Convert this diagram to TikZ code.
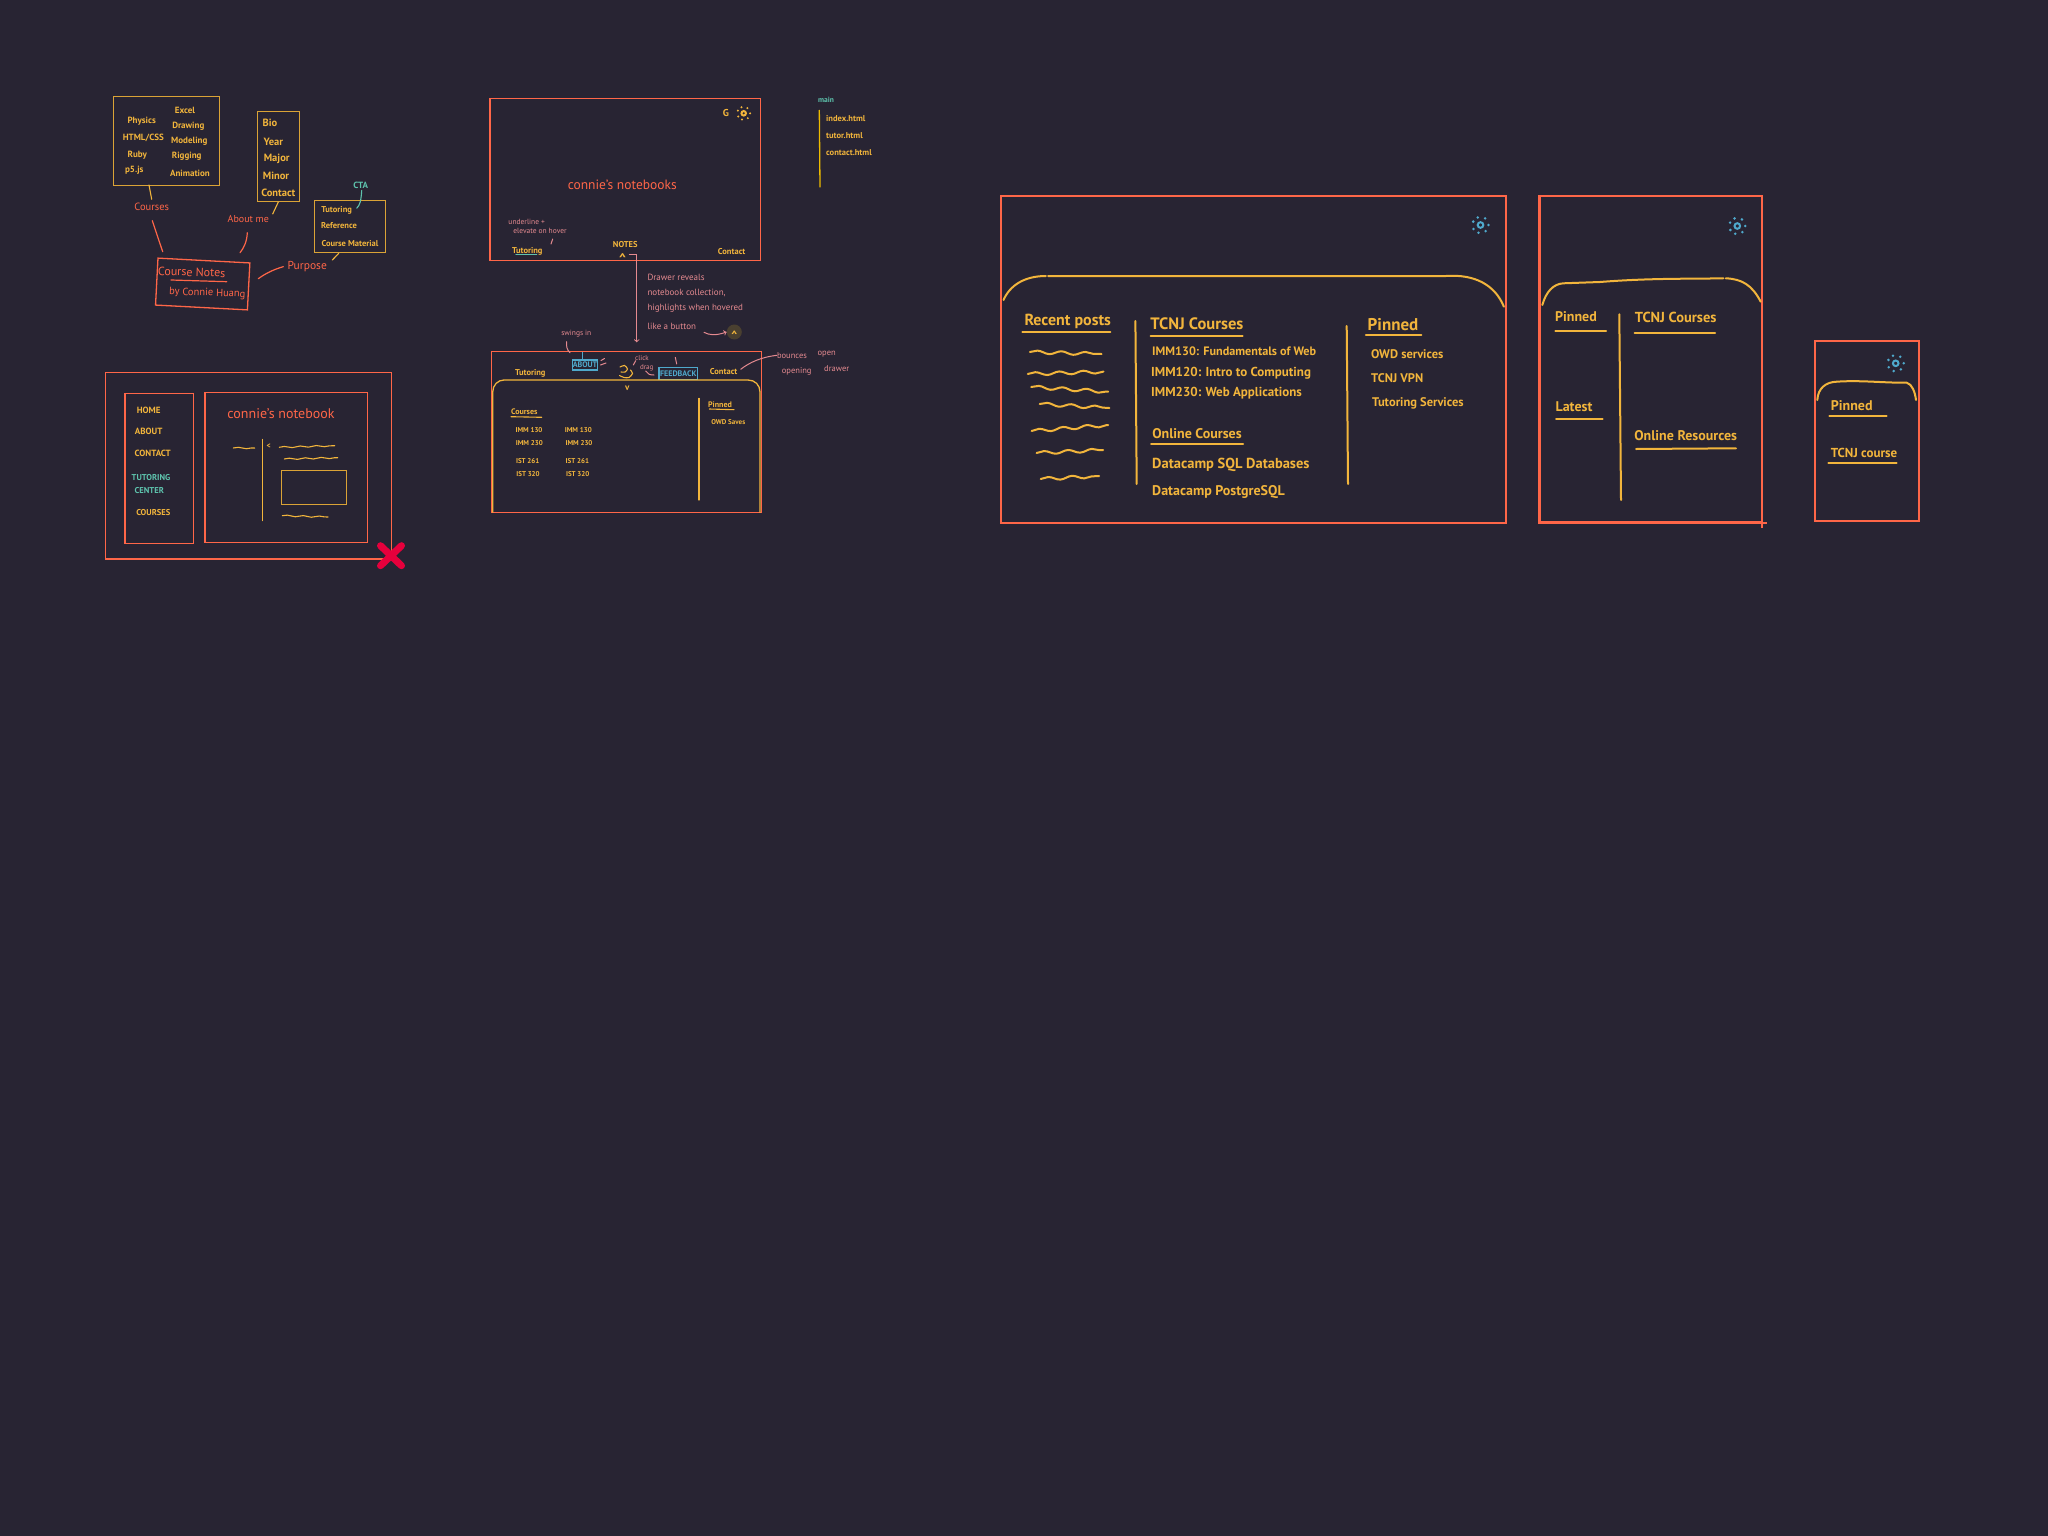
\documentclass[tikz,border=0pt]{standalone}
\usepackage{fontspec}
\setmainfont{PT Sans}
\usetikzlibrary{decorations.pathmorphing}
\definecolor{bgdark}{HTML}{282433}
\definecolor{handred}{HTML}{FF6648}
\definecolor{handyel}{HTML}{F2B53C}
\definecolor{handteal}{HTML}{5EC4AE}
\definecolor{handpink}{HTML}{E58A90}
\definecolor{handblue}{HTML}{4FA9CC}
\definecolor{handgold}{HTML}{EDBB00}
\definecolor{crossred}{HTML}{E6003C}
\definecolor{capsule}{HTML}{4A4030}
\begin{document}
\begin{tikzpicture}[
    x=1pt, y=-1pt,
    hand/.style={inner sep=0pt, font=\fontsize{#1}{#1}\selectfont},
    hand bold/.style={inner sep=0pt, font=\fontsize{#1}{#1}\selectfont\bfseries},
    rednote/.style={hand=#1, text=handred},
    yelnote/.style={hand bold=#1, text=handyel},
    tealnote/.style={hand bold=#1, text=handteal},
    pinknote/.style={hand=#1, text=handpink},
    yelbig/.style={hand bold=#1, text=handyel},
    frame/.style={draw=handred, line width=1.3pt, inner sep=0pt, outer sep=0pt},
    bigframe/.style={draw=handred, line width=2.4pt, inner sep=0pt, outer sep=0pt},
    yelframe/.style={draw=handyel!90!black, line width=1pt, inner sep=0pt, outer sep=0pt},
    tagbox/.style={draw=handblue, line width=1.2pt, inner sep=0pt, outer sep=0pt, text=handblue, font=\fontsize{8}{8}\selectfont\bfseries},
    redline/.style={draw=handred, line width=1.2pt, line cap=round},
    yelline/.style={draw=handyel, line width=1.1pt, line cap=round},
    yelfat/.style={draw=handyel, line width=2pt, line cap=round},
    pinkline/.style={draw=handpink, line width=1pt, line cap=round},
    pinkarrow/.style={->, >=to, draw=handpink, line width=1pt, line cap=round},
    tealline/.style={draw=handteal, line width=1.1pt, line cap=round},
    squiggle/.style={yelfat, decorate, decoration={snake, segment length=24pt, amplitude=1.6pt}},
    fineswiggle/.style={yelline, decorate, decoration={snake, segment length=16pt, amplitude=0.7pt}},
    crossline/.style={draw=crossred, line width=7pt, line cap=round},
    sunpic/.pic={
        \draw[line width=2pt] (0,0) circle (2.8pt);
        \foreach \a in {0,50,105,150,205,250,305} \fill (\a:8) circle (1.4pt);
    }
]
    \path[use as bounding box, fill=bgdark] (0,0) rectangle (2048,1536);

    % Mind map: Course Notes
    \node[yelframe, minimum width=106pt, minimum height=88pt] (bxcourses) at (166,141) {};
    \node[yelframe, minimum width=42pt, minimum height=89pt] (bxabout) at (278.3,156.5) {};
    \node[yelframe, minimum width=71pt, minimum height=52pt] (bxpurpose) at (349.8,226.3) {};
    \node[frame, rotate=-3, minimum width=92pt, minimum height=47pt] (bxtitle) at (202.7,284) {};

    \node[yelnote=9] (tphys) at (141.7,121.7) {Physics};
    \node[yelnote=9] (thtml) at (143.3,138.3) {HTML/CSS};
    \node[yelnote=9] (truby) at (137.3,155) {Ruby};
    \node[yelnote=9] (tp5) at (134.3,170.7) {p5.js};
    \node[yelnote=9] (texcel) at (185,110) {Excel};
    \node[yelnote=9] (tdraw) at (188.3,126.7) {Drawing};
    \node[yelnote=9] (tmodel) at (189.3,141.7) {Modeling};
    \node[yelnote=9] (trig) at (186.7,156) {Rigging};
    \node[yelnote=9] (tanim) at (190,173.3) {Animation};

    \node[yelnote=10.5] (tbio) at (270,122.7) {Bio};
    \node[yelnote=10.5] (tyear) at (273.3,142.3) {Year};
    \node[yelnote=10.5] (tmajor) at (276.7,159.3) {Major};
    \node[yelnote=10.5] (tminor) at (276,175.7) {Minor};
    \node[yelnote=10.5] (tcontact) at (278.3,192.7) {Contact};

    \node[tealnote=9] (tcta) at (360.7,185) {CTA};
    \node[yelnote=8.5] (ttut) at (336.7,210.7) {Tutoring};
    \node[yelnote=8.5] (tref) at (339,226) {Reference};
    \node[yelnote=8.5] (tmat) at (350,243.3) {Course Material};

    \node[rednote=10.5] (lblcourses) at (151.7,207.3) {Courses};
    \node[rednote=10] (lblabout) at (248.3,219.3) {About me};
    \node[rednote=11.5] (lblpurpose) at (307.3,266.7) {Purpose};
    \node[rednote=12, rotate=-2] (tnotes) at (191.7,272) {Course Notes};
    \node[rednote=10.5, rotate=-2] (tby) at (207.3,293.3) {by Connie Huang};
    \coordinate (unotes1) at (171,280);
    \coordinate (unotes2) at (226.7,281.7);
    \draw[redline] (unotes1) -- (unotes2);

    \coordinate (ctaend) at (356.7,208.3);
    \coordinate (cnend) at (162.7,251.7);
    \coordinate (abend) at (240,252.7);
    \coordinate (puend) at (258.3,278.7);
    \coordinate (pustart) at (283.3,266.7);
    \coordinate (abstart) at (247.3,232.7);
    \coordinate (cnstart) at (152.3,220.7);
    \coordinate (abtop) at (272.7,214);
    \coordinate (putop) at (332.3,260);
    \draw[yelline] ([xshift=-17pt]bxcourses.south) -- ([yshift=4pt]lblcourses.north);
    \draw[redline] (cnstart) -- (cnend);
    \draw[yelline] ([yshift=-1pt]bxabout.south) -- (abtop);
    \draw[redline] (abstart) .. controls (247,241) and (244,248) .. (abend);
    \draw[redline] (puend) .. controls (266,273) and (275,269) .. (pustart);
    \draw[yelline] ([xshift=-11pt,yshift=-1pt]bxpurpose.south) -- (putop);
    \draw[tealline] (tcta.south) ++(1,2) .. controls (361,201) and (360,205) .. (ctaend);

    % Sidebar layout
    \node[frame, minimum width=286.4pt, minimum height=186.7pt] (bxpage) at (248.5,465.7) {};
    \node[frame, minimum width=68.7pt, minimum height=150pt] (bxside) at (159.3,468.3) {};
    \node[frame, minimum width=162.3pt, minimum height=150pt] (bxmain) at (286.2,467.7) {};

    \node[yelnote=9] (shome) at (148.7,410) {HOME};
    \node[yelnote=9] (sabout) at (148.7,431.3) {ABOUT};
    \node[yelnote=9] (scontact) at (152.7,453) {CONTACT};
    \node[tealnote=8.5] (stut) at (151,477.7) {TUTORING};
    \node[tealnote=8.5] (scen) at (149.3,490.7) {CENTER};
    \node[yelnote=8.5] (scour) at (153.3,512.7) {COURSES};
    \node[rednote=14] (stitle) at (281,413.3) {connie's notebook};

    \coordinate (sq1a) at (233.3,448);
    \coordinate (sq1b) at (254.7,448);
    \coordinate (sq2a) at (279.3,447.3);
    \coordinate (sq2b) at (334.7,445.7);
    \coordinate (sq3a) at (284.3,459);
    \coordinate (sq3b) at (337.7,457.7);
    \coordinate (sq4a) at (282.3,515.7);
    \coordinate (sq4b) at (328,517);
    \coordinate (sdiv1) at (262.7,439.3);
    \coordinate (sdiv2) at (262.7,520.7);
    \draw[fineswiggle] (sq1a) -- (sq1b);
    \draw[fineswiggle] (sq2a) -- (sq2b);
    \draw[fineswiggle] (sq3a) -- (sq3b);
    \draw[fineswiggle] (sq4a) -- (sq4b);
    \draw[yelline] (sdiv1) -- (sdiv2);
    \node[yelnote=8] (sback) at (268.7,446) {<};
    \node[yelframe, minimum width=65pt, minimum height=34pt] (simg) at (313.8,487.3) {};

    \coordinate (crossm) at (391,555.7);
    \draw[crossline] ([shift={(-10.5,10)}]crossm) -- ([shift={(10.5,-10)}]crossm);
    \draw[crossline] ([shift={(-10.5,-10)}]crossm) -- ([shift={(10.5,10)}]crossm);

    % Landing page
    \node[frame, minimum width=270.3pt, minimum height=162pt] (bxland) at (625.2,179.7) {};
    \node[rednote=13.5] (ltitle) at (622.3,185) {connie's notebooks};
    \node[yelnote=10] (lg) at (726,112.7) {G};
    \pic[color=handyel, scale=.8] (lsun) at (743.7,113.3) {sunpic};
    \node[pinknote=7.5] (lund) at (526.7,222.3) {underline +};
    \node[pinknote=7.5] (lele) at (540,231) {elevate on hover};
    \node[yelnote=8.5] (ltut) at (527.3,251.7) {Tutoring};
    \node[yelnote=8.5] (lnotes) at (625.3,244.7) {NOTES};
    \node[yelnote=14] (lcaret) at (622.7,259) {\^{}};
    \node[yelnote=8.5] (lcon) at (731.7,251.3) {Contact};
    \coordinate (lul1) at (516,254.7);
    \coordinate (lul2) at (536.7,254.7);
    \draw[tealline] (lul1) -- (lul2);
    \coordinate (ltick1) at (552.7,239);
    \coordinate (ltick2) at (551,244);
    \draw[pinkline] (ltick1) -- (ltick2);

    % File list
    \node[tealnote=7.5] (fmain) at (826,100) {main};
    \node[yelnote=8.5, anchor=west] (findex) at (826,118.3) {index.html};
    \node[yelnote=8.5, anchor=west] (ftutor) at (826,136) {tutor.html};
    \node[yelnote=8.5, anchor=west] (fcontact) at (826,152.7) {contact.html};
    \coordinate (fbar1) at (819.3,110);
    \coordinate (fbar2) at (820,187.3);
    \draw[draw=handgold, line width=1.3pt] (fbar1) -- (fbar2);

    % Drawer notes
    \coordinate (dstart) at (629.3,254.3);
    \coordinate (dend) at (636.7,342.3);
    \draw[pinkarrow] (dstart) -- (636.7,254.3) -- (dend);
    \node[pinknote=9, anchor=west] (dn1) at (647.3,277.3) {Drawer reveals};
    \node[pinknote=9, anchor=west] (dn2) at (647.3,292.7) {notebook collection,};
    \node[pinknote=9, anchor=west] (dn3) at (647.3,308.7) {highlights when hovered};
    \node[pinknote=9, anchor=west] (dn4) at (647.3,326.7) {like a button};
    \node[circle, fill=capsule, minimum size=15pt, inner sep=0pt] (dbtn) at (734.3,332) {};
    \node[yelnote=12] (dcaret) at (734.3,335) {\^{}};
    \coordinate (dn4end) at (704,332.3);
    \draw[pinkarrow] (dn4end) .. controls (709,335) and (715,336) .. (dbtn.west);

    % Open drawer page
    \node[frame, minimum width=270pt, minimum height=161.4pt] (bxopen) at (626.7,432) {};
    \node[yelnote=8.5] (otut) at (530.3,373.3) {Tutoring};
    \node[yelnote=8.5] (ocon) at (723.7,371.3) {Contact};
    \node[tagbox, minimum width=24.6pt, minimum height=10pt] (oabout) at (585,365) {ABOUT};
    \node[tagbox, minimum width=38.7pt, minimum height=12pt] (ofeed) at (678.3,373.3) {FEEDBACK};
    \node[pinknote=7.5] (oswing) at (576.3,334) {swings in};
    \node[pinknote=7] (oclick) at (642,358.3) {click};
    \node[pinknote=7] (odrag) at (646.7,367.3) {drag};
    \node[pinknote=8.5] (obounce) at (792,355.3) {bounces};
    \node[pinknote=8.5] (oopen) at (826.7,354) {open};
    \node[pinknote=8.5] (oopening) at (796.7,371.7) {opening};
    \node[pinknote=8.5] (odrawer) at (836.7,368.7) {drawer};
    \node[yelnote=9] (ovee) at (627.3,388) {v};
    \coordinate (oblue) at (582.7,352.3);
    \draw[draw=handblue, line width=1.1pt] (oblue) -- (oblue |- oabout.north);
    \coordinate (ots1) at (566.7,341.7);
    \coordinate (ots2) at (570,352.7);
    \draw[pinkline] (ots1) .. controls (566,346) and (567,350) .. (ots2);
    \coordinate (om1) at (601,360.5);
    \coordinate (om2) at (604.5,358.5);
    \coordinate (om3) at (600.5,365);
    \coordinate (om4) at (606,363);
    \draw[pinkline] (om1) -- (om2);
    \draw[pinkline] (om3) -- (om4);
    \coordinate (oc1) at (635.7,360.7);
    \coordinate (oc2) at (633.3,365);
    \draw[pinkline] (oc1) -- (oc2);
    \coordinate (od1) at (645.7,371);
    \coordinate (od2) at (654,375);
    \draw[pinkline] (od1) .. controls (647,374) and (650,375) .. (od2);
    \coordinate (of1) at (675.3,357.3);
    \coordinate (of2) at (676.7,364);
    \draw[pinkline] (of1) -- (of2);
    \coordinate (ob1) at (740.7,369.3);
    \draw[pinkline] (ob1) .. controls (750,362) and (762,357) .. (obounce.west);
    \draw[yelline] plot[smooth] coordinates {(620,367) (624.5,365.5) (627.5,369) (625,372) (621,372)};
    \draw[yelline] plot[smooth] coordinates {(619.5,375.5) (624,377.5) (629,377.5) (632.5,373.5) (630.5,370)};

    \draw[handyel, line width=1.3pt] (492.7,512.7) -- (492.7,392) .. controls (492.7,385) and (498,380) .. (504,380) -- (748,380) .. controls (755,380) and (760,385) .. (760,392) -- (760,512.7);
    \coordinate (odiv1) at (699,398.3);
    \coordinate (odiv2) at (699,500);
    \draw[yelline] (odiv1) -- (odiv2);
    \node[yelnote=8] (ocourses) at (524.3,412) {Courses};
    \coordinate (ocu1) at (511,416.7);
    \coordinate (ocu2) at (541.7,417.3);
    \draw[yelline] (ocu1) -- (ocu2);
    \node[yelnote=8] (opinned) at (720,404.3) {Pinned};
    \coordinate (opu1) at (709.3,409);
    \coordinate (opu2) at (734,409.7);
    \draw[yelline] (opu1) -- (opu2);
    \node[yelnote=7] (oowd) at (728.3,421.7) {OWD Saves};
    \node[yelnote=7] (oc1a) at (529,430) {IMM 130};
    \node[yelnote=7] (oc1b) at (578.3,430) {IMM 130};
    \node[yelnote=7] (oc2a) at (529.3,442.7) {IMM 230};
    \node[yelnote=7] (oc2b) at (579,442.7) {IMM 230};
    \node[yelnote=7] (oc3a) at (527.7,461.3) {IST 261};
    \node[yelnote=7] (oc3b) at (577.3,461.3) {IST 261};
    \node[yelnote=7] (oc4a) at (528,473.7) {IST 320};
    \node[yelnote=7] (oc4b) at (577.7,473.7) {IST 320};

    % Desktop wireframe
    \node[bigframe, minimum width=505pt, minimum height=327pt] (bxdesk) at (1253.5,359.5) {};
    \pic[color=handblue] (dsun) at (1480.5,225) {sunpic};
    \draw[yelfat] (1003.5,300) .. controls (1010,285) and (1025,276) .. (1045.8,276);
    \draw[yelfat] (1048,276) -- (1446,276) .. controls (1475,274) and (1495,285) .. (1503.9,306.7);

    \node[yelbig=16] (drecent) at (1067.7,321) {Recent posts};
    \draw[yelfat] (1022.4,332.3) -- (1110.3,332.3);
    \draw[squiggle] (1029.9,352) -- (1101.5,354);
    \draw[squiggle] (1027.8,374) -- (1103.5,371.7);
    \draw[squiggle] (1031.2,387) -- (1108.2,391.7);
    \draw[squiggle] (1039.7,404) -- (1109.3,408);
    \draw[squiggle] (1031.6,431) -- (1108.2,425);
    \draw[squiggle] (1036.6,453) -- (1103.2,450);
    \draw[squiggle] (1040.7,479) -- (1099.2,476);
    \draw[yelfat] (1135.4,321) -- (1136.7,484);

    \node[yelbig=16.5] (dtcnj) at (1196.9,324) {TCNJ Courses};
    \draw[yelfat] (1150.6,335.7) -- (1242.5,335.7);
    \node[yelbig=12.2, anchor=west] (dc1) at (1152,351.7) {IMM130: Fundamentals of Web};
    \node[yelbig=13, anchor=west] (dc2) at (1151,373) {IMM120: Intro to Computing};
    \node[yelbig=13, anchor=west] (dc3) at (1151,393) {IMM230: Web Applications};
    \node[yelbig=14] (donline) at (1197,433.3) {Online Courses};
    \draw[yelfat] (1151.2,444) -- (1243,444);
    \node[yelbig=14.5, anchor=west] (dd1) at (1152,465) {Datacamp SQL Databases};
    \node[yelbig=14, anchor=west] (dd2) at (1152,491.7) {Datacamp PostgreSQL};
    \draw[yelfat] (1346.7,326) -- (1348,484);

    \node[yelbig=17] (dpinned) at (1393,324.3) {Pinned};
    \draw[yelfat] (1365.9,335.3) -- (1421.4,335.3);
    \node[yelbig=12.5, anchor=west] (dp1) at (1371,354) {OWD services};
    \node[yelbig=12.5, anchor=west] (dp2) at (1371,378.3) {TCNJ VPN};
    \node[yelbig=12.5, anchor=west] (dp3) at (1372,403.3) {Tutoring Services};

    % Tablet wireframe
    \node[bigframe, minimum width=222.7pt, minimum height=326.7pt] (bxtab) at (1650.7,359.3) {};
    \draw[handred, line width=2pt] (bxtab.south east) -- ++(0,5);
    \draw[handred, line width=2pt] (bxtab.south east) -- ++(5,0);
    \pic[color=handblue] (tsun) at (1737.3,226) {sunpic};
    \draw[yelfat] (1542.3,305) .. controls (1546,292) and (1553,284) .. (1563.3,283.3) -- (1600,282) .. controls (1650,278) and (1690,279) .. (1723.3,278.3);
    \draw[yelfat] (1725.7,278.3) .. controls (1742,279) and (1752,285) .. (1760.7,301.7);
    \node[yelbig=14] (tpinned) at (1576,316.7) {Pinned};
    \draw[yelfat] (1555.3,331.3) -- (1606,331.3);
    \node[yelbig=14] (tlatest) at (1574,406.7) {Latest};
    \draw[yelfat] (1556,419.3) -- (1602.7,419.3);
    \draw[yelfat] (1619.3,314.3) -- (1621,500);
    \node[yelbig=14.5] (ttcnj) at (1675.7,317.3) {TCNJ Courses};
    \draw[yelfat] (1634.7,333) -- (1715,333);
    \node[yelbig=14] (tonline) at (1685.7,436) {Online Resources};
    \draw[yelfat] (1636,449) -- (1736,448.3);

    % Phone wireframe
    \node[bigframe, minimum width=104pt, minimum height=180pt] (bxphone) at (1866.7,430.7) {};
    \pic[color=handblue] (psun) at (1895.7,363.3) {sunpic};
    \draw[yelfat] (1817.3,400) .. controls (1818,388) and (1826,382) .. (1836.7,381.7) .. controls (1860,380) and (1885,383) .. (1906.7,382.7) .. controls (1912,384) and (1915,392) .. (1916,400);
    \node[yelbig=14] (ppinned) at (1851.7,405.7) {Pinned};
    \draw[yelfat] (1829.3,416) -- (1886.7,416);
    \node[yelbig=13] (ptcnj) at (1864,453.3) {TCNJ course};
    \draw[yelfat] (1828.3,462.7) -- (1896.7,462.7);

\end{tikzpicture}
\end{document}
